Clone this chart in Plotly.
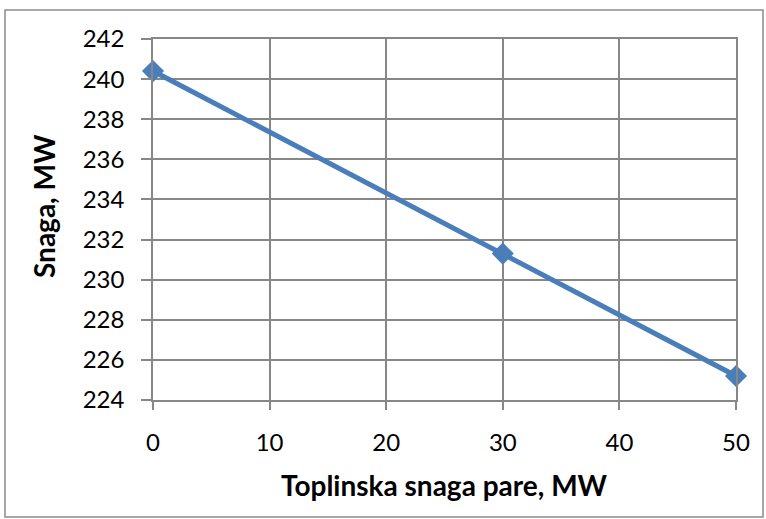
import plotly.graph_objects as go

# Heat extraction (MW) vs. electrical output (MW)
toplinska_snaga = [0, 30, 50]
snaga = [240.4, 231.3, 225.2]

x_ticks = [0, 10, 20, 30, 40, 50]
y_ticks = [224, 226, 228, 230, 232, 234, 236, 238, 240, 242]

W, H = 766, 519
ML, MR, MT, MB = 153, 30, 39, 119
PW, PH = W - ML - MR, H - MT - MB


def px(x):
    return (x - ML) / PW


def py(y):
    return 1 - (y - MT) / PH


grid = "#878787"
font_family = "Lato, Open Sans, Liberation Sans, Arial, sans-serif"

fig = go.Figure()
fig.add_trace(go.Scatter(
    x=toplinska_snaga, y=snaga, mode="lines+markers",
    line=dict(color="#4a7ebb", width=5),
    marker=dict(symbol="diamond", size=17, color="#4a7ebb"),
    cliponaxis=False, showlegend=False,
))

# outer chart frame
fig.add_shape(type="rect", xref="paper", yref="paper",
              x0=px(5), x1=px(763), y0=py(517), y1=py(10),
              line=dict(color="#8c8c8c", width=1.5), layer="below")

# axis titles
fig.add_annotation(text="<b>Toplinska snaga pare, MW</b>", xref="paper", yref="paper",
                   x=px(444), y=py(485), xanchor="center", yanchor="middle",
                   showarrow=False, font=dict(size=28))
fig.add_annotation(text="<b>Snaga, MW</b>", xref="paper", yref="paper",
                   x=px(44), y=py(206), xanchor="center", yanchor="middle",
                   textangle=-90, showarrow=False, font=dict(size=28))

fig.update_layout(
    width=W, height=H,
    margin=dict(l=ML, r=MR, t=MT, b=MB),
    paper_bgcolor="white", plot_bgcolor="white",
    font=dict(family=font_family, size=24, color="black"),
    xaxis=dict(
        range=[0, 50], tickvals=x_ticks, ticks="outside", ticklen=8,
        tickcolor=grid, tickwidth=1.5, showgrid=True, gridcolor=grid,
        gridwidth=1.5, showline=True, linecolor=grid, linewidth=1.5,
        mirror=True, zeroline=False, ticklabelstandoff=12,
    ),
    yaxis=dict(
        range=[224, 242], tickvals=y_ticks, ticks="outside", ticklen=10,
        tickcolor=grid, tickwidth=1.5, showgrid=True, gridcolor=grid,
        gridwidth=1.5, showline=True, linecolor=grid, linewidth=1.5,
        mirror=True, zeroline=False, ticklabelstandoff=12,
    ),
)

fig.write_html("out.html")
